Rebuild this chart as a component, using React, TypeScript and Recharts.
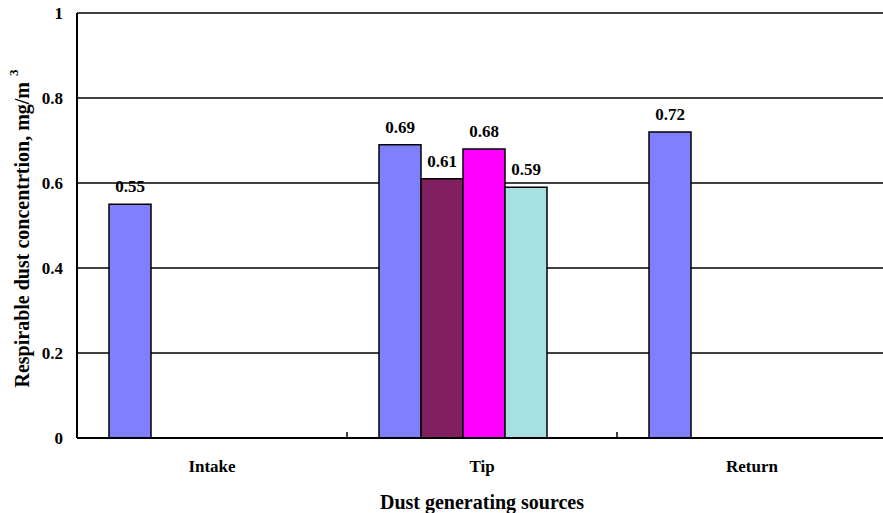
import React from "react";
import { BarChart, Bar, XAxis, YAxis, CartesianGrid, LabelList, Label } from "recharts";

const categories = ["Intake", "Tip", "Return"];
const series1 = [0.55, 0.69, 0.72];
const series2 = [null, 0.61, null];
const series3 = [null, 0.68, null];
const series4 = [null, 0.59, null];
const spacerSeries = [null, null, null];
const yTicks = [0, 0.2, 0.4, 0.6, 0.8, 1];

const data = categories.map((c, i) => ({
  name: c,
  s1: series1[i],
  s2: series2[i],
  s3: series3[i],
  s4: series4[i],
  s5: spacerSeries[i],
}));

const FONT = '"Liberation Serif", "Times New Roman", serif';

const XTick = (props: any) => {
  const { x, y, payload, index } = props;
  const half = payload && payload.offset ? payload.offset : 135;
  return (
    <g>
      {index > 0 && (
        <line x1={x - half} x2={x - half} y1={y} y2={y - 6} stroke="#000" strokeWidth={1.5} />
      )}
      <text x={x} y={y + 34} textAnchor="middle" fontFamily={FONT} fontWeight="bold" fontSize={17} fill="#000">
        {payload.value}
      </text>
    </g>
  );
};

const YTitle = (props: any) => {
  const vb = props.viewBox || { x: 0, y: 13, width: 77, height: 425 };
  const cx = vb.x + 22;
  const cy = vb.y + vb.height / 2 + 3;
  return (
    <text
      x={cx}
      y={cy}
      transform={`rotate(-90, ${cx}, ${cy})`}
      textAnchor="middle"
      dominantBaseline="central"
      fontFamily={FONT}
      fontWeight="bold"
      fontSize={20}
      fill="#000"
    >
      Respirable dust concentrtion, mg/m
      <tspan dx={6} dy={-9} fontSize={13}>3</tspan>
    </text>
  );
};

const XTitle = (props: any) => {
  const vb = props.viewBox || { x: 77, y: 438, width: 810, height: 75 };
  return (
    <text
      x={vb.x + vb.width / 2}
      y={509}
      textAnchor="middle"
      fontFamily={FONT}
      fontWeight="bold"
      fontSize={20}
      fill="#000"
    >
      Dust generating sources
    </text>
  );
};

const labelStyle = { fontFamily: FONT, fontWeight: "bold", fontSize: 17, fill: "#000" } as any;

export default function App() {
  return (
    <div style={{ position: "absolute", left: 0, top: 0, width: 883, height: 513, overflow: "hidden", background: "#fff" }}>
      <BarChart
        width={890}
        height={513}
        data={data}
        margin={{ top: 13, right: 3, bottom: 0, left: 0 }}
        barGap={0}
      >
        <CartesianGrid horizontal vertical={false} stroke="#000" strokeWidth={1.3} />
        <XAxis
          dataKey="name"
          height={75}
          axisLine={{ stroke: "#000", strokeWidth: 2 }}
          tickLine={false}
          tickSize={0}
          tickMargin={0}
          tick={<XTick />}
          interval={0}
        >
          <Label content={<XTitle />} />
        </XAxis>
        <YAxis
          width={77}
          domain={[0, 1]}
          ticks={yTicks}
          interval={0}
          axisLine={{ stroke: "#000", strokeWidth: 2 }}
          tickLine={false}
          tickMargin={8}
          tick={{ fontFamily: FONT, fontWeight: "bold", fontSize: 17, fill: "#000" }}
        >
          <Label content={<YTitle />} />
        </YAxis>
        <Bar dataKey="s1" fill="#8080FF" stroke="#000" strokeWidth={1.5} barSize={42} isAnimationActive={false}>
          <LabelList dataKey="s1" position="top" offset={12} style={labelStyle} />
        </Bar>
        <Bar dataKey="s2" fill="#802060" stroke="#000" strokeWidth={1.5} barSize={42} isAnimationActive={false}>
          <LabelList dataKey="s2" position="top" offset={12} style={labelStyle} />
        </Bar>
        <Bar dataKey="s3" fill="#FF00FF" stroke="#000" strokeWidth={1.5} barSize={42} isAnimationActive={false}>
          <LabelList dataKey="s3" position="top" offset={12} style={labelStyle} />
        </Bar>
        <Bar dataKey="s4" fill="#A6E0E0" stroke="#000" strokeWidth={1.5} barSize={42} isAnimationActive={false}>
          <LabelList dataKey="s4" position="top" offset={12} style={labelStyle} />
        </Bar>
        <Bar dataKey="s5" fill="#FFFFCC" stroke="#000" strokeWidth={1.5} barSize={38} isAnimationActive={false} />
      </BarChart>
    </div>
  );
}
